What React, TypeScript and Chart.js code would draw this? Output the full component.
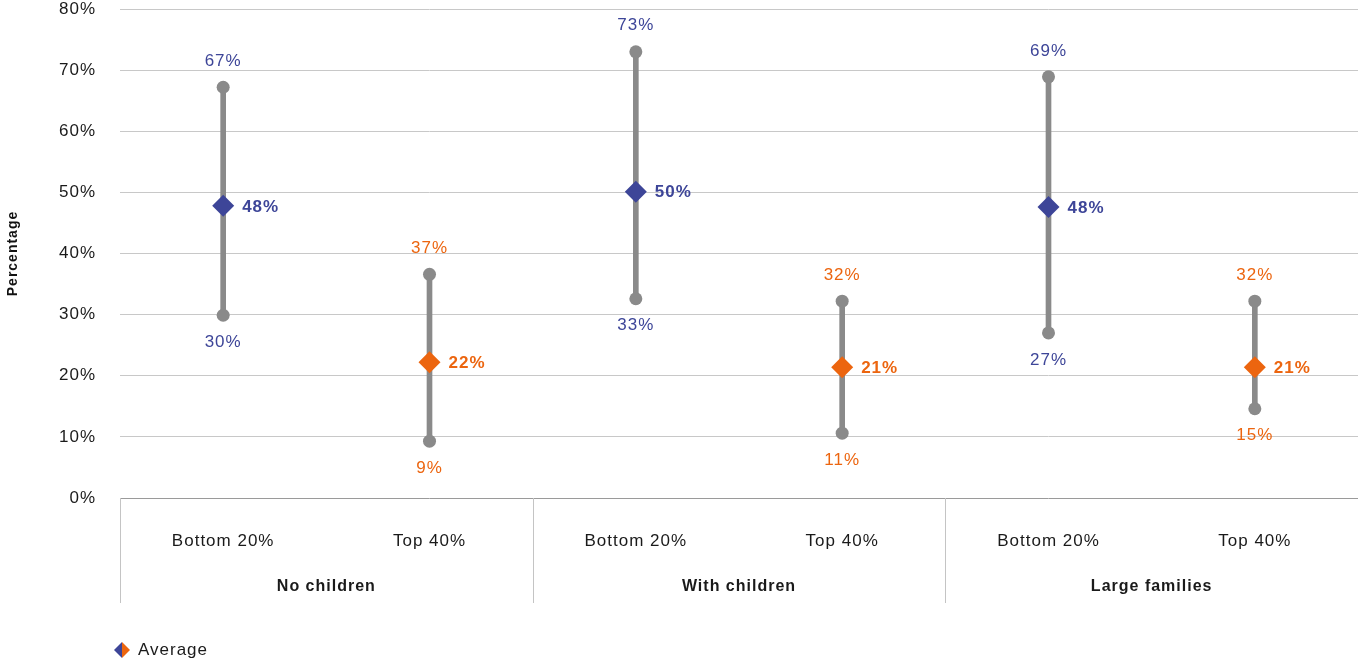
import React, { useEffect, useRef } from "react";
import { Chart, registerables } from "chart.js";

Chart.register(...registerables);

const categories = ["Bottom 20%", "Top 40%", "Bottom 20%", "Top 40%", "Bottom 20%", "Top 40%"];
const groups = ["No children", "With children", "Large families"];
const maxValues = [67.2, 36.6, 73.0, 32.2, 68.9, 32.2];
const minValues = [29.9, 9.3, 32.6, 10.6, 27.0, 14.6];
const avgValues = [47.8, 22.2, 50.1, 21.4, 47.6, 21.4];
const yTicks = [0, 10, 20, 30, 40, 50, 60, 70, 80];
const legendLabel = "Average";
const axisTitle = "Percentage";

const BLUE = "#3d4598";
const ORANGE = "#ec650f";
const GRAY = "#8a8a8a";
const FONT = "'Liberation Sans', Arial, Helvetica, sans-serif";
const seriesColors = categories.map((_, i) => (i % 2 === 0 ? BLUE : ORANGE));

const fmt = (v: number) => `${Math.round(v)}%`;

const labelPlugin = {
  id: "customLabels",
  beforeDraw(chart: any) {
    chart.ctx.letterSpacing = "1px";
  },
  afterDatasetsDraw(chart: any) {
    const ctx = chart.ctx;
    const x = chart.scales.x;
    const y = chart.scales.y;
    ctx.save();
    ctx.letterSpacing = "1px";
    categories.forEach((_, i) => {
      const px = x.getPixelForValue(i);
      const col = seriesColors[i];
      ctx.fillStyle = col;
      ctx.textBaseline = "middle";
      ctx.font = `17px ${FONT}`;
      ctx.textAlign = "center";
      ctx.fillText(fmt(maxValues[i]), px, y.getPixelForValue(maxValues[i]) - 26);
      ctx.fillText(fmt(minValues[i]), px, y.getPixelForValue(minValues[i]) + 27);
      ctx.font = `bold 17px ${FONT}`;
      ctx.textAlign = "left";
      ctx.fillText(fmt(avgValues[i]), px + 19, y.getPixelForValue(avgValues[i]) + 1);
    });
    ctx.restore();
  },
  afterDraw(chart: any) {
    const ctx = chart.ctx;
    const x = chart.scales.x;
    const area = chart.chartArea;
    const step = x.getPixelForValue(1) - x.getPixelForValue(0);
    ctx.save();
    ctx.letterSpacing = "1px";
    ctx.strokeStyle = "#c4c4c4";
    ctx.lineWidth = 1;
    for (let g = 0; g < groups.length; g++) {
      const sx = Math.round(x.getPixelForValue(g * 2) - step / 2) + 0.5;
      ctx.beginPath();
      ctx.moveTo(sx, area.bottom);
      ctx.lineTo(sx, area.bottom + 105);
      ctx.stroke();
    }
    ctx.fillStyle = "#1a1a1a";
    ctx.textAlign = "center";
    ctx.textBaseline = "middle";
    ctx.font = `17px ${FONT}`;
    categories.forEach((c, i) => {
      ctx.fillText(c, x.getPixelForValue(i), area.bottom + 43);
    });
    ctx.font = `bold 16px ${FONT}`;
    groups.forEach((g, gi) => {
      const cx = (x.getPixelForValue(gi * 2) + x.getPixelForValue(gi * 2 + 1)) / 2;
      ctx.fillText(g, cx, area.bottom + 89);
    });
    const lx = 122;
    const ly = 650;
    const r = 8;
    ctx.fillStyle = BLUE;
    ctx.beginPath();
    ctx.moveTo(lx, ly - r);
    ctx.lineTo(lx - r, ly);
    ctx.lineTo(lx, ly + r);
    ctx.closePath();
    ctx.fill();
    ctx.fillStyle = ORANGE;
    ctx.beginPath();
    ctx.moveTo(lx, ly - r);
    ctx.lineTo(lx + r, ly);
    ctx.lineTo(lx, ly + r);
    ctx.closePath();
    ctx.fill();
    ctx.fillStyle = "#1a1a1a";
    ctx.textAlign = "left";
    ctx.font = `17px ${FONT}`;
    ctx.fillText(legendLabel, 138, ly);
    ctx.restore();
  },
};

export default function App() {
  const ref = useRef<HTMLCanvasElement | null>(null);
  useEffect(() => {
    if (!ref.current) return;
    const chart = new Chart(ref.current, {
      type: "bar",
      data: {
        labels: categories,
        datasets: [
          {
            type: "line",
            label: "Average",
            data: avgValues,
            showLine: false,
            pointStyle: "rectRot",
            pointRadius: 11,
            pointBorderWidth: 0,
            pointBackgroundColor: seriesColors,
            order: 1,
          } as any,
          {
            type: "line",
            label: "Max",
            data: maxValues,
            showLine: false,
            pointRadius: 6.5,
            pointBorderWidth: 0,
            pointBackgroundColor: GRAY,
            order: 2,
          } as any,
          {
            type: "line",
            label: "Min",
            data: minValues,
            showLine: false,
            pointRadius: 6.5,
            pointBorderWidth: 0,
            pointBackgroundColor: GRAY,
            order: 2,
          } as any,
          {
            type: "bar",
            label: "Range",
            data: minValues.map((m, i) => [m, maxValues[i]]),
            backgroundColor: GRAY,
            barThickness: 5,
            grouped: false,
            order: 3,
          } as any,
        ],
      },
      options: {
        animation: false,
        responsive: true,
        maintainAspectRatio: false,
        layout: { autoPadding: false, padding: { top: 9, right: 0, left: 0, bottom: 0 } },
        plugins: { legend: { display: false }, tooltip: { enabled: false } },
        scales: {
          x: {
            offset: true,
            grid: { display: false },
            border: { display: false },
            ticks: { display: false },
            afterFit: (s: any) => {
              s.height = 162;
              s.paddingLeft = 0;
              s.paddingRight = 0;
              s.paddingTop = 0;
              s.paddingBottom = 0;
            },
          },
          y: {
            min: 0,
            max: 80,
            afterBuildTicks: (s: any) => {
              s.ticks = yTicks.map((v) => ({ value: v }));
            },
            ticks: {
              padding: 24,
              color: "#1a1a1a",
              font: { size: 17, family: FONT },
              callback: (v: any) => `${v}%`,
            },
            grid: {
              drawTicks: false,
              color: (c: any) => (c.tick && c.tick.value === 0 ? "#9a9a9a" : "#c8c8c8"),
              lineWidth: 1,
            },
            border: { display: false },
            title: {
              display: true,
              text: axisTitle,
              color: "#111",
              font: { size: 14, weight: "bold", family: FONT },
              padding: { top: 5, bottom: 0 },
            },
            afterFit: (s: any) => {
              s.width = 120;
              s.paddingTop = 0;
              s.paddingBottom = 0;
              s.paddingLeft = 0;
              s.paddingRight = 0;
            },
          },
        },
      },
      plugins: [labelPlugin],
    });
    return () => chart.destroy();
  }, []);
  return (
    <div style={{ position: "fixed", left: 0, top: 0, width: 1358, height: 660, background: "#fff" }}>
      <canvas ref={ref} />
    </div>
  );
}
